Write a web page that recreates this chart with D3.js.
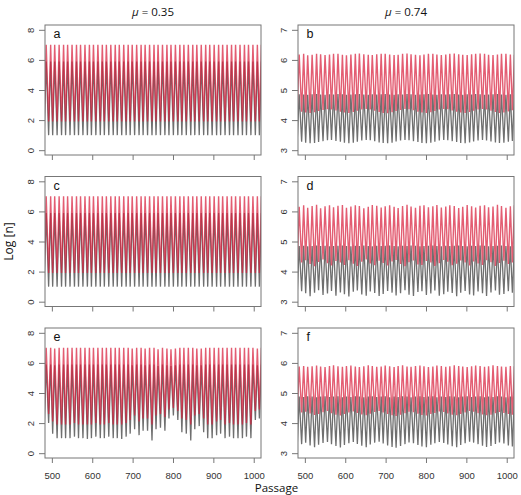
<!DOCTYPE html>
<html>
<head>
<meta charset="utf-8">
<script src="https://cdn.jsdelivr.net/npm/d3@7"></script>
<style>
  body { margin: 0; background: #fff; }
  text { font-family: "Liberation Sans", Arial, sans-serif; }
</style>
</head>
<body>
<div id="chart"></div>
<script>
// passages at which each cycle hits its low / high
var troughAt = [481,492,502,513,524,534,545,556,566,577,588,598,609,620,630,641,652,662,673,684,694,705,716,726,737,748,758,769,780,790,801,812,822,833,844,854,865,876,886,897,908,918,929,940,950,961,972,982,993,1004,1014];
var peakAt   = [486,497,507,518,529,539,550,561,571,582,593,603,614,625,635,646,657,667,678,689,699,710,721,731,742,753,763,774,785,795,806,817,827,838,849,859,870,881,891,902,913,923,934,945,955,966,977,987,998,1009,1019];

// panel a (mu = 0.35)
var aRedHigh   = [7,7,7,7,7,7,7,7,7,7,7,7,7,7,7,7,7,7,7,7,7,7,7,7,7,7,7,7,7,7,7,7,7,7,7,7,7,7,7,7,7,7,7,7,7,7,7,7,7,7,7];
var aRedLow    = [1.9,1.9,1.9,1.9,1.9,1.9,1.9,1.9,1.9,1.9,1.9,1.9,1.9,1.9,1.9,1.9,1.9,1.9,1.9,1.9,1.9,1.9,1.9,1.9,1.9,1.9,1.9,1.9,1.9,1.9,1.9,1.9,1.9,1.9,1.9,1.9,1.9,1.9,1.9,1.9,1.9,1.9,1.9,1.9,1.9,1.9,1.9,1.9,1.9,1.9,1.9];
var aBlackHigh = [5.9,5.9,5.9,5.9,5.9,5.9,5.9,5.9,5.9,5.9,5.9,5.9,5.9,5.9,5.9,5.9,5.9,5.9,5.9,5.9,5.9,5.9,5.9,5.9,5.9,5.9,5.9,5.9,5.9,5.9,5.9,5.9,5.9,5.9,5.9,5.9,5.9,5.9,5.9,5.9,5.9,5.9,5.9,5.9,5.9,5.9,5.9,5.9,5.9,5.9,5.9];
var aBlackLow  = [1,1,1,1,1,1,1,1,1,1,1,1,1,1,1,1,1,1,1,1,1,1,1,1,1,1,1,1,1,1,1,1,1,1,1,1,1,1,1,1,1,1,1,1,1,1,1,1,1,1,1];

// panel c (mu = 0.35)
var cRedHigh   = [7,7,7,7,7,7,7,7,7,7,7,7,7,7,7,7,7,7,7,7,7,7,7,7,7,7,7,7,7,7,7,7,7,7,7,7,7,7,7,7,7,7,7,7,7,7,7,7,7,7,7];
var cRedLow    = [1.9,1.9,1.9,1.9,1.9,1.9,1.9,1.9,1.9,1.9,1.9,1.9,1.9,1.9,1.9,1.9,1.9,1.9,1.9,1.9,1.9,1.9,1.9,1.9,1.9,1.9,1.9,1.9,1.9,1.9,1.9,1.9,1.9,1.9,1.9,1.9,1.9,1.9,1.9,1.9,1.9,1.9,1.9,1.9,1.9,1.9,1.9,1.9,1.9,1.9,1.9];
var cBlackHigh = [5.9,5.9,5.9,5.9,5.9,5.9,5.9,5.9,5.9,5.9,5.9,5.9,5.9,5.9,5.9,5.9,5.9,5.9,5.9,5.9,5.9,5.9,5.9,5.9,5.9,5.9,5.9,5.9,5.9,5.9,5.9,5.9,5.9,5.9,5.9,5.9,5.9,5.9,5.9,5.9,5.9,5.9,5.9,5.9,5.9,5.9,5.9,5.9,5.9,5.9,5.9];
var cBlackLow  = [1,1,1,1,1,1,1,1,1,1,1,1,1,1,1,1,1,1,1,1,1,1,1,1,1,1,1,1,1,1,1,1,1,1,1,1,1,1,1,1,1,1,1,1,1,1,1,1,1,1,1];

// panel e (mu = 0.35)
var eRedHigh   = [7,7,6.95,7,7,7,7,7,7,7,7,7,7,7,7,7,7,7,7,7,6.95,7,7,6.95,7,7,6.9,7,6.95,6.9,6.95,7,7,7,7,6.95,6.95,7,7,7,7,7,7,7,7,7,7,7,7,6.95,7];
var eRedLow    = [2.4,2.6,2.1,1.9,1.9,1.9,1.9,2,1.9,1.9,1.9,1.9,2,1.9,1.9,2,1.9,1.9,1.9,2,2.2,2.5,2.1,2.3,2.3,1.9,2.5,2.6,2.4,2.9,3,2.8,2.3,2.2,1.9,2.5,2.6,2.3,1.9,1.9,2.1,2.2,1.9,2,1.9,1.9,1.9,2,1.9,2.8,2.9];
var eBlackHigh = [5.9,5.9,5.85,5.9,5.9,5.9,5.9,5.9,5.9,5.9,5.9,5.9,5.9,5.9,5.9,5.9,5.9,5.9,5.9,5.9,5.85,5.9,5.9,5.85,5.9,5.9,5.8,5.9,5.85,5.8,5.85,5.9,5.9,5.9,5.9,5.85,5.85,5.9,5.9,5.9,5.9,5.9,5.9,5.9,5.9,5.9,5.9,5.9,5.9,5.85,5.9];
var eBlackLow  = [1.6,2,1.3,1,1,1,1,1.1,1,1,0.95,1,1.1,1,1,1.1,1,1,0.95,1.1,1.3,1.6,1.2,1.5,1.5,0.85,1.6,1.7,1.5,2.3,2.5,2.2,1.4,1.3,0.85,1.6,1.8,1.4,1,1,1.2,1.3,1,1.1,1,1,1,1.1,1,2.2,2.3];

// panel b (mu = 0.74)
var bRedHigh   = [6.18,6.2,6.15,6.17,6.2,6.19,6.16,6.18,6.2,6.2,6.17,6.15,6.18,6.2,6.21,6.19,6.17,6.16,6.19,6.2,6.2,6.18,6.16,6.17,6.2,6.21,6.19,6.17,6.15,6.18,6.2,6.2,6.18,6.16,6.18,6.2,6.21,6.19,6.17,6.16,6.19,6.2,6.21,6.2,6.17,6.16,6.18,6.2,6.2,6.18,6.17];
var bRedLow    = [4.3,4.28,4.25,4.24,4.26,4.3,4.34,4.36,4.35,4.32,4.28,4.25,4.24,4.27,4.31,4.35,4.37,4.35,4.31,4.27,4.24,4.23,4.26,4.3,4.34,4.37,4.36,4.33,4.28,4.25,4.24,4.26,4.3,4.35,4.37,4.36,4.32,4.28,4.25,4.24,4.27,4.31,4.35,4.37,4.35,4.31,4.27,4.24,4.25,4.29,4.33];
var bBlackHigh = [4.86,4.85,4.84,4.86,4.87,4.85,4.84,4.86,4.85,4.87,4.86,4.84,4.85,4.86,4.87,4.85,4.84,4.86,4.85,4.86,4.87,4.85,4.84,4.86,4.85,4.87,4.86,4.84,4.85,4.86,4.87,4.85,4.84,4.86,4.85,4.86,4.87,4.85,4.84,4.86,4.85,4.87,4.86,4.84,4.85,4.86,4.87,4.85,4.84,4.86,4.85];
var bBlackLow  = [3.3,3.28,3.25,3.23,3.24,3.27,3.3,3.33,3.34,3.31,3.28,3.25,3.23,3.25,3.28,3.32,3.34,3.33,3.3,3.26,3.24,3.23,3.25,3.29,3.32,3.34,3.33,3.3,3.27,3.24,3.23,3.25,3.28,3.32,3.34,3.33,3.3,3.27,3.24,3.23,3.26,3.29,3.32,3.34,3.32,3.29,3.26,3.24,3.25,3.28,3.31];

// panel d (mu = 0.74)
var dRedHigh   = [6.15,6.2,6.12,6.18,6.22,6.1,6.17,6.2,6.14,6.19,6.21,6.12,6.16,6.2,6.18,6.1,6.15,6.21,6.19,6.13,6.17,6.2,6.15,6.11,6.18,6.22,6.16,6.12,6.19,6.2,6.14,6.17,6.21,6.13,6.16,6.2,6.18,6.11,6.15,6.21,6.17,6.13,6.19,6.2,6.14,6.16,6.22,6.18,6.12,6.17,6.2];
var dRedLow    = [4.2,4.3,4.38,4.25,4.18,4.32,4.4,4.28,4.2,4.35,4.3,4.22,4.38,4.26,4.19,4.33,4.4,4.27,4.21,4.36,4.29,4.2,4.34,4.39,4.25,4.18,4.31,4.37,4.24,4.22,4.35,4.3,4.19,4.28,4.39,4.33,4.21,4.26,4.37,4.3,4.2,4.34,4.27,4.22,4.38,4.31,4.19,4.29,4.36,4.25,4.3];
var dBlackHigh = [4.85,4.86,4.84,4.85,4.87,4.85,4.86,4.84,4.85,4.86,4.87,4.85,4.84,4.86,4.85,4.87,4.85,4.84,4.86,4.85,4.86,4.87,4.85,4.84,4.86,4.85,4.87,4.86,4.84,4.85,4.86,4.87,4.85,4.84,4.86,4.85,4.86,4.87,4.85,4.84,4.86,4.85,4.87,4.86,4.84,4.85,4.86,4.87,4.85,4.84,4.86];
var dBlackLow  = [3.2,3.35,3.28,3.18,3.3,3.38,3.22,3.27,3.36,3.2,3.31,3.25,3.17,3.33,3.37,3.24,3.2,3.34,3.29,3.19,3.26,3.36,3.3,3.21,3.28,3.38,3.23,3.19,3.32,3.35,3.22,3.27,3.37,3.2,3.25,3.33,3.29,3.18,3.3,3.36,3.24,3.21,3.34,3.28,3.19,3.31,3.37,3.23,3.26,3.35,3.3];

// panel f (mu = 0.74)
var fRedHigh   = [5.88,5.9,5.87,5.89,5.91,5.88,5.86,5.9,5.92,5.89,5.87,5.9,5.91,5.88,5.86,5.89,5.92,5.9,5.87,5.88,5.91,5.89,5.86,5.9,5.92,5.88,5.87,5.9,5.91,5.89,5.86,5.88,5.91,5.9,5.87,5.89,5.92,5.9,5.88,5.86,5.89,5.91,5.9,5.87,5.89,5.92,5.9,5.88,5.87,5.9,5.89];
var fRedLow    = [4.3,4.35,4.38,4.32,4.27,4.3,4.36,4.4,4.33,4.28,4.25,4.3,4.35,4.39,4.34,4.29,4.26,4.31,4.37,4.4,4.35,4.3,4.26,4.24,4.28,4.33,4.38,4.36,4.31,4.27,4.25,4.3,4.34,4.39,4.37,4.32,4.28,4.26,4.3,4.35,4.4,4.38,4.33,4.29,4.26,4.28,4.33,4.37,4.34,4.3,4.28];
var fBlackHigh = [4.88,4.87,4.89,4.88,4.86,4.88,4.89,4.87,4.88,4.89,4.86,4.88,4.87,4.89,4.88,4.86,4.88,4.89,4.87,4.88,4.89,4.86,4.88,4.87,4.89,4.88,4.86,4.88,4.89,4.87,4.88,4.89,4.86,4.88,4.87,4.89,4.88,4.86,4.88,4.89,4.87,4.88,4.89,4.86,4.88,4.87,4.89,4.88,4.86,4.88,4.89];
var fBlackLow  = [3.22,3.3,3.35,3.26,3.2,3.28,3.34,3.37,3.3,3.24,3.19,3.27,3.33,3.37,3.31,3.25,3.2,3.29,3.35,3.38,3.32,3.26,3.21,3.18,3.24,3.3,3.36,3.33,3.27,3.22,3.2,3.28,3.33,3.37,3.34,3.29,3.23,3.2,3.27,3.33,3.38,3.35,3.3,3.25,3.21,3.24,3.31,3.36,3.32,3.26,3.22];

var xLimits = [483, 1018];
var xTicks = [500, 600, 700, 800, 900, 1000];
var leftLimits = [0, 8], leftTicks = [0, 2, 4, 6, 8];
var rightLimits = [3, 7], rightTicks = [3, 4, 5, 6, 7];
var columnTitles = ["0.35", "0.74"];

var svgWidth = 521, svgHeight = 495;
var colLeft = [45, 298], colWidth = 216;
var rowTop = [25, 176.5, 328], rowHeight = 130;

var svg = d3.select("#chart").append("svg")
  .attr("width", svgWidth)
  .attr("height", svgHeight);

var panels = [
  {label: "a", col: 0, row: 0, lim: leftLimits,  ticks: leftTicks,  red: [aRedLow, aRedHigh], black: [aBlackLow, aBlackHigh]},
  {label: "b", col: 1, row: 0, lim: rightLimits, ticks: rightTicks, red: [bRedLow, bRedHigh], black: [bBlackLow, bBlackHigh]},
  {label: "c", col: 0, row: 1, lim: leftLimits,  ticks: leftTicks,  red: [cRedLow, cRedHigh], black: [cBlackLow, cBlackHigh]},
  {label: "d", col: 1, row: 1, lim: rightLimits, ticks: rightTicks, red: [dRedLow, dRedHigh], black: [dBlackLow, dBlackHigh]},
  {label: "e", col: 0, row: 2, lim: leftLimits,  ticks: leftTicks,  red: [eRedLow, eRedHigh], black: [eBlackLow, eBlackHigh]},
  {label: "f", col: 1, row: 2, lim: rightLimits, ticks: rightTicks, red: [fRedLow, fRedHigh], black: [fBlackLow, fBlackHigh]}
];

// zig-zag through low / high points of each cycle
function cyclePoints(lows, highs) {
  var pts = [];
  troughAt.forEach(function(p, i) {
    pts.push({p: p, v: lows[i]});
    pts.push({p: peakAt[i], v: highs[i]});
  });
  return pts;
}

panels.forEach(function(pn, k) {
  var x0 = colLeft[pn.col], y0 = rowTop[pn.row];
  var pad = 0.04 * (pn.lim[1] - pn.lim[0]);

  var xScale = d3.scaleLinear().domain(xLimits).range([0, colWidth]);
  var yScale = d3.scaleLinear().domain([pn.lim[0] - pad, pn.lim[1] + pad]).range([rowHeight, 0]);

  var g = svg.append("g").attr("transform", `translate(${x0}, ${y0})`);

  g.append("clipPath").attr("id", "clip" + k)
    .append("rect").attr("width", colWidth).attr("height", rowHeight);

  var line = d3.line().x(d => xScale(d.p)).y(d => yScale(d.v));

  var plot = g.append("g").attr("clip-path", `url(#clip${k})`);
  plot.append("path")
    .datum(cyclePoints(pn.black[0], pn.black[1]))
    .attr("d", line)
    .attr("fill", "none")
    .attr("stroke", "#222")
    .attr("stroke-opacity", 0.65)
    .attr("stroke-width", 1.3);
  plot.append("path")
    .datum(cyclePoints(pn.red[0], pn.red[1]))
    .attr("d", line)
    .attr("fill", "none")
    .attr("stroke", "#d81e3c")
    .attr("stroke-opacity", 0.72)
    .attr("stroke-width", 1.4);

  g.append("rect")
    .attr("width", colWidth).attr("height", rowHeight)
    .attr("fill", "none").attr("stroke", "#777");

  // y axis, labels parallel to the axis like R
  var yAxis = d3.axisLeft(yScale).tickValues(pn.ticks).tickFormat(d3.format("d")).tickSize(6).tickSizeOuter(0);
  var ya = g.append("g").attr("class", "yaxis").call(yAxis);
  ya.select(".domain").remove();
  ya.selectAll("line").attr("stroke", "#777");
  ya.selectAll("text")
    .attr("transform", "rotate(-90)")
    .attr("x", 0).attr("y", -11.5).attr("dy", 0)
    .attr("text-anchor", "middle")
    .attr("font-size", 9.5)
    .attr("fill", "#333");

  var xAxis = d3.axisBottom(xScale).tickValues(xTicks).tickSize(5).tickSizeOuter(0)
    .tickFormat(pn.row < 2 ? "" : d3.format("d"));
  var xa = g.append("g").attr("class", "xaxis")
    .attr("transform", `translate(0, ${rowHeight})`)
    .call(xAxis);
  xa.select(".domain").remove();
  xa.selectAll("line").attr("stroke", "#777");
  xa.selectAll("text")
    .attr("y", 20.5).attr("dy", 0)
    .attr("font-size", 9.5)
    .attr("fill", "#333");

  g.append("text")
    .attr("x", 8.5).attr("y", 13.3)
    .attr("font-size", 12.5)
    .attr("fill", "#111")
    .text(pn.label);
});

columnTitles.forEach(function(t, i) {
  var tt = svg.append("text")
    .attr("x", colLeft[i] + colWidth / 2)
    .attr("y", 15.5)
    .attr("text-anchor", "middle")
    .style("font-family", "'Open Sans', sans-serif")
    .attr("font-size", 11.5)
    .attr("fill", "#111");
  tt.append("tspan").attr("font-style", "italic").text("\u03bc");
  tt.append("tspan").text(" = " + t);
});

svg.append("text")
  .attr("transform", "translate(12.5, 241.5) rotate(-90)")
  .attr("text-anchor", "middle")
  .style("font-family", "'Open Sans', sans-serif")
  .attr("font-size", 12)
  .attr("fill", "#111")
  .text("Log [n]");

svg.append("text")
  .attr("x", 276.5).attr("y", 491.5)
  .attr("text-anchor", "middle")
  .style("font-family", "'Open Sans', sans-serif")
  .attr("font-size", 11.5)
  .attr("fill", "#111")
  .text("Passage");
</script>
</body>
</html>
